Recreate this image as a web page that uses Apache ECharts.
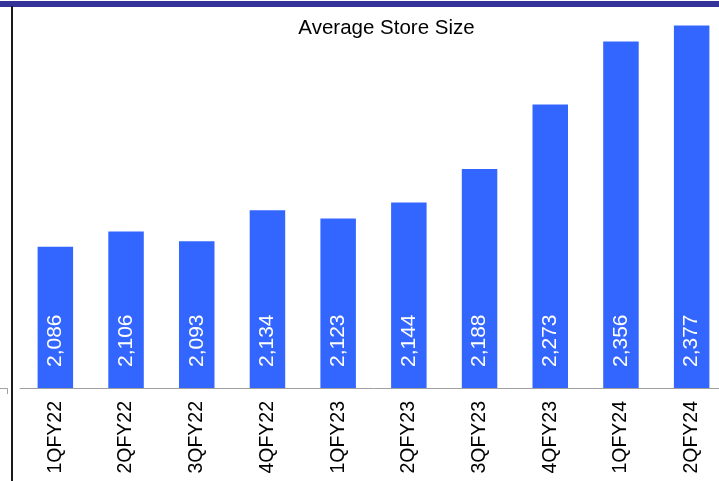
<!DOCTYPE html>
<html>
<head>
<meta charset="utf-8">
<style>
  html, body { margin: 0; padding: 0; background: #ffffff; overflow: hidden; }
  /* the plot area runs a little past the right edge of the page */
  #chart { width: 727px; height: 481px; }
</style>
<script src="https://cdn.jsdelivr.net/npm/echarts@6/dist/echarts.min.js"></script>
</head>
<body>
<div id="chart"></div>
<script>
// Quarterly average store size (sq ft)
var quarters = ['1QFY22', '2QFY22', '3QFY22', '4QFY22', '1QFY23', '2QFY23', '3QFY23', '4QFY23', '1QFY24', '2QFY24'];
var avgStoreSize = [2086, 2106, 2093, 2134, 2123, 2144, 2188, 2273, 2356, 2377];
var chartTitle = 'Average Store Size';

var chart = echarts.init(document.getElementById('chart'), null, { renderer: 'canvas' });

chart.setOption({
  animation: false,
  backgroundColor: '#ffffff',
  textStyle: { fontFamily: '"Liberation Sans", Arial, sans-serif' },
  title: {
    text: chartTitle,
    left: 381.5,
    top: 13,
    textAlign: 'center',
    textStyle: { fontSize: 20.5, fontWeight: 'normal', color: '#000000', fontFamily: '"Liberation Sans", Arial, sans-serif' }
  },
  grid: { left: 20, top: 8, right: 0, bottom: 93, containLabel: false },
  xAxis: {
    type: 'category',
    data: quarters,
    axisLine: { lineStyle: { color: '#a0a0a0', width: 1 } },
    axisTick: { length: 6, lineStyle: { color: '#a0a0a0' } },
    axisLabel: {
      rotate: 90,
      margin: 13,
      color: '#000000',
      fontSize: 19.5,
      fontFamily: '"Liberation Sans", Arial, sans-serif'
    }
  },
  yAxis: {
    type: 'value',
    min: 1900,
    max: 2400,
    show: false
  },
  series: [{
    type: 'bar',
    data: avgStoreSize,
    barWidth: 35.5,
    itemStyle: { color: '#3366ff' },
    label: {
      show: true,
      position: 'insideBottom',
      distance: 21,
      rotate: 90,
      align: 'left',
      verticalAlign: 'middle',
      color: '#ffffff',
      fontSize: 21,
      fontFamily: '"Liberation Sans", Arial, sans-serif',
      formatter: function (p) { return p.value.toLocaleString('en-US'); }
    }
  }],
  graphic: [
    { type: 'rect', shape: { x: 0, y: 1, width: 727, height: 6 }, style: { fill: '#333399' }, silent: true },
    { type: 'line', shape: { x1: 12, y1: 6, x2: 12, y2: 481 }, style: { stroke: '#1a1a1a', lineWidth: 2 }, silent: true },
    { type: 'polyline', shape: { points: [[0, 388.5], [7.5, 388.5], [7.5, 394]] }, style: { stroke: '#a0a0a0', lineWidth: 1, fill: null }, silent: true }
  ]
});
</script>
</body>
</html>
